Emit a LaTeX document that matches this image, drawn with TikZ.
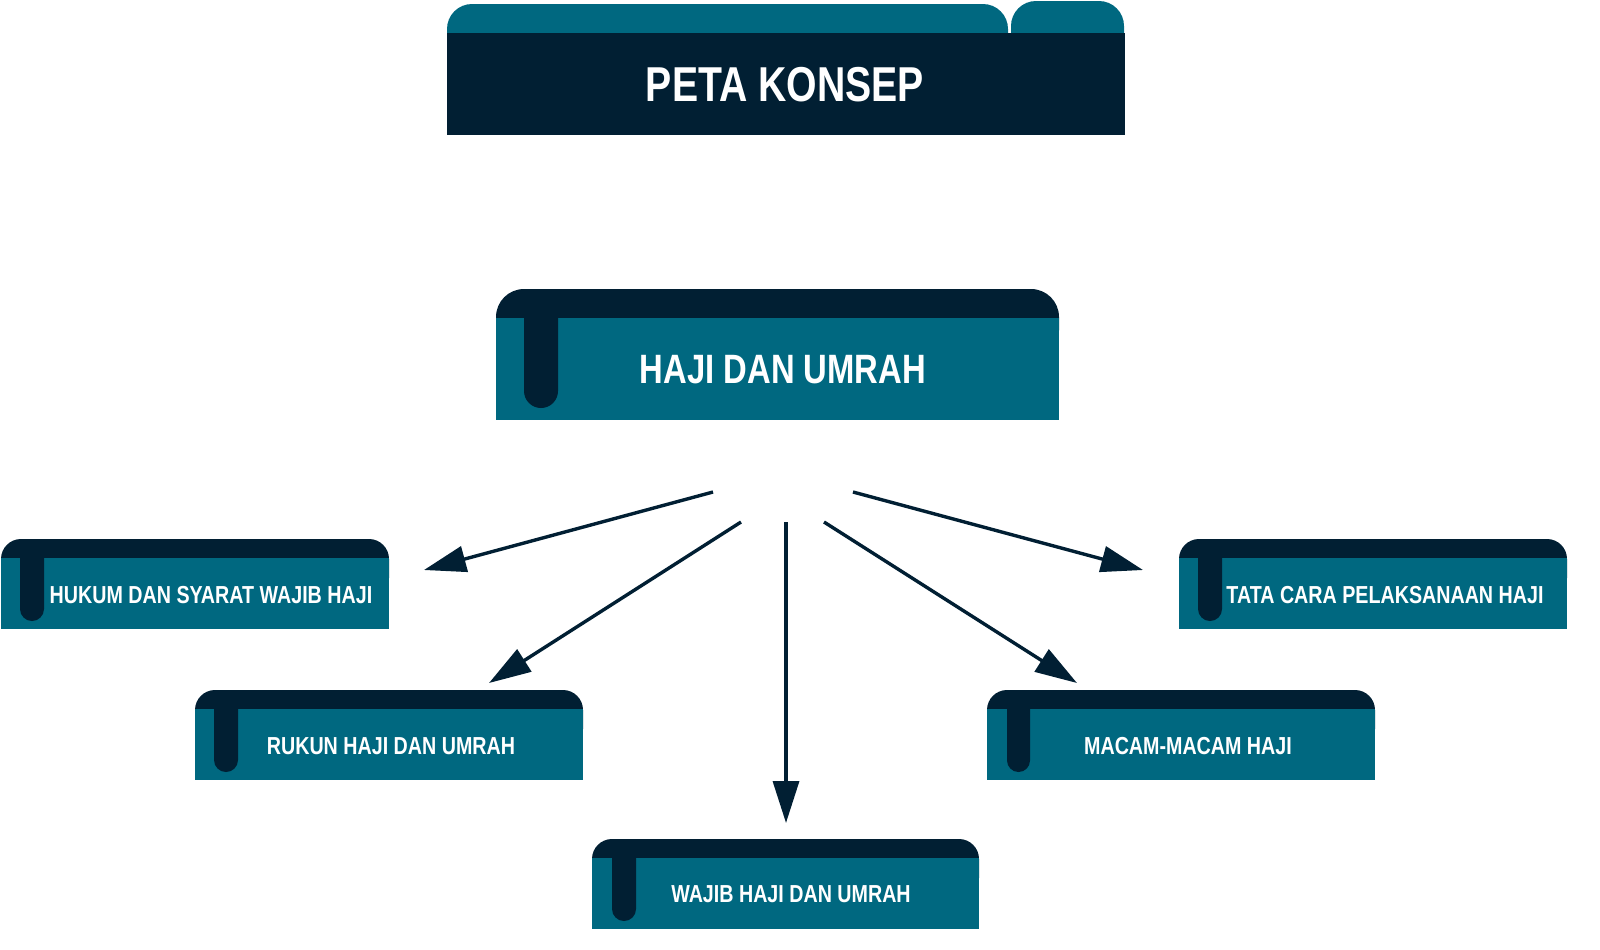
\documentclass[tikz,border=0pt]{standalone}
\usepackage{fontspec}
\newfontfamily\cf{Liberation Sans}[FakeStretch=0.8]
\usetikzlibrary{arrows.meta}
\definecolor{tealc}{RGB}{0,104,128}
\definecolor{darkc}{RGB}{1,31,51}
\tikzset{
  lbl/.style={text=white,font=\cf\bfseries\fontsize{12.3}{14}\selectfont,inner sep=0pt,anchor=center},
  biglbl/.style={text=white,font=\cf\bfseries\fontsize{20.5}{24}\selectfont,inner sep=0pt,anchor=center},
  titlelbl/.style={text=white,font=\cf\bfseries\fontsize{24.5}{28}\selectfont,inner sep=0pt,anchor=center},
  arr/.style={draw=darkc,line width=1.7pt,-{Triangle[length=21pt,width=13pt]}},
}
% #1 left, #2 top, #3 right, #4 bottom, #5 band height, #6 radius(pt), #7 stem left, #8 stem right, #9 stem bottom
\newcommand\kotak[9]{%
  \fill[darkc,rounded corners=#6] (#1,#2) rectangle (#3,#2+#5+40);
  \fill[tealc] (#1,#2+#5) rectangle (#3,#4);
  \fill[darkc,rounded corners={(#8-#7)*0.25pt}] (#7,#2) rectangle (#8,#9);
}
\begin{document}
\begin{tikzpicture}[x=0.5pt,y=-0.5pt]
\useasboundingbox (0,0) rectangle (1600,949);
% title
\fill[tealc,rounded corners=12.5pt] (447,4) rectangle (1008,70);
\fill[tealc,rounded corners=12.5pt] (1011,1) rectangle (1124,70);
\fill[darkc] (447,33) rectangle (1125,135);
\node[titlelbl] (title) at (785,85) {PETA KONSEP};
% main
\kotak{496}{289}{1059}{420}{29}{14pt}{524}{558}{408}
\node[biglbl] (main) at (783,370) {HAJI DAN UMRAH};
% sub boxes
\kotak{1}{539}{389}{629}{19}{10pt}{20}{44}{621}
\node[lbl] (hukum) at (211,595) {HUKUM DAN SYARAT WAJIB HAJI};
\kotak{195}{690}{583}{780}{19}{10pt}{214}{238}{772}
\node[lbl] (rukun) at (391,746) {RUKUN HAJI DAN UMRAH};
\kotak{592}{839}{979}{929}{19}{10pt}{612}{636}{921}
\node[lbl] (wajib) at (791,894) {WAJIB HAJI DAN UMRAH};
\kotak{987}{690}{1375}{780}{19}{10pt}{1007}{1030}{772}
\node[lbl] (macam) at (1188,746) {MACAM-MACAM HAJI};
\kotak{1179}{539}{1567}{629}{19}{10pt}{1198}{1222}{621}
\node[lbl] (tata) at (1385,595) {TATA CARA PELAKSANAAN HAJI};
% arrow ends
\coordinate (s1) at (713,492); \coordinate (e1) at (424,570);
\coordinate (s2) at (741,522); \coordinate (e2) at (489,683);
\coordinate (s3) at (786,522); \coordinate (e3) at (786,823);
\coordinate (s4) at (824,522); \coordinate (e4) at (1077,683);
\coordinate (s5) at (853,492); \coordinate (e5) at (1143,570);
\draw[arr] (s1) -- (e1);
\draw[arr] (s2) -- (e2);
\draw[arr] (s3) -- (e3);
\draw[arr] (s4) -- (e4);
\draw[arr] (s5) -- (e5);
\end{tikzpicture}
\end{document}
